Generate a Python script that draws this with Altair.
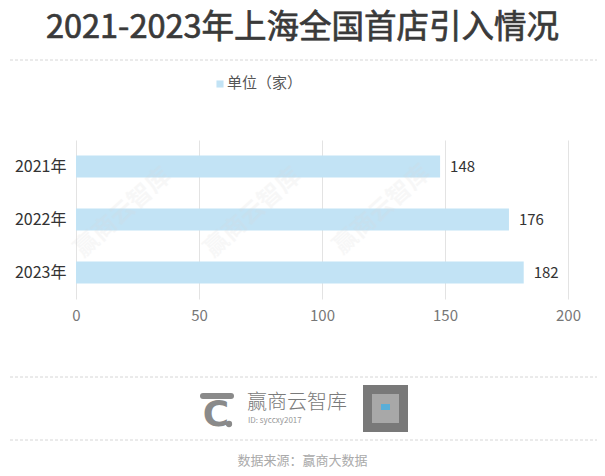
import altair as alt
import pandas as pd

years = ["2021年", "2022年", "2023年"]
counts = [148, 176, 182]
x_ticks = [0, 50, 100, 150, 200]
title_text = "2021-2023年上海全国首店引入情况"
legend_text = "单位（家）"
source_text = "数据来源：赢商大数据"
brand_text = "赢商云智库"
brand_id = "ID: syccxy2017"

FONT = "Noto Sans CJK SC"
df = pd.DataFrame({"year": years, "count": counts})

y_enc = alt.Y("year:N", sort=years,
              scale=alt.Scale(paddingInner=0.585, paddingOuter=0.2925),
              axis=alt.Axis(title=None, labelFontSize=16, labelColor="#333333",
                            labelPadding=10, domain=False, ticks=False, grid=False,
                            labelFont=FONT))
x_enc = alt.X("count:Q", scale=alt.Scale(domain=[0, 200], nice=False),
              axis=alt.Axis(values=x_ticks, title=None, grid=True, gridColor="#e3e3e3",
                            domain=False, ticks=False, labelFontSize=15, labelFlush=False,
                            labelColor="#777777", labelPadding=9, labelFont=FONT))

base = alt.Chart(df)
bars = base.mark_bar(color="#c2e3f5").encode(y=y_enc, x=x_enc)
labels = base.mark_text(align="left", dx=10, fontSize=15, color="#333333", font=FONT).encode(
    y=alt.Y("year:N", sort=years), x="count:Q", text="count:Q")

wm = alt.Chart(pd.DataFrame({"t": [brand_text]}))
watermarks = alt.layer(*[
    wm.mark_text(fontSize=24, fontWeight="bold", angle=318, color="#d8d8d8", opacity=0.18,
                 font=FONT).encode(text="t:N", x=alt.value(px), y=alt.value(py))
    for px, py in [(47, 73), (177, 73), (306, 70)]
])

one = alt.Chart(pd.DataFrame({"t": [""]}))

title = alt.Chart(pd.DataFrame({"t": [title_text]})).mark_text(
    fontSize=32.5, fontWeight="normal", color="#3a3a3a", font=FONT, baseline="middle",
    stroke="#3a3a3a", strokeWidth=0.7
).encode(text="t:N", x=alt.value(226.5), y=alt.value(-112))

dash_style = dict(strokeDash=[3, 2], color="#d6d6d6", strokeWidth=1)
rule1 = one.mark_rule(**dash_style).encode(x=alt.value(-76), x2=alt.value(529), y=alt.value(-80))
rule2 = one.mark_rule(**dash_style).encode(x=alt.value(-76), x2=alt.value(529), y=alt.value(237))
rule3 = one.mark_rule(**dash_style).encode(x=alt.value(-76), x2=alt.value(529), y=alt.value(300))

legend_sq = one.mark_square(size=50, color="#c2e3f5", opacity=1).encode(
    x=alt.value(144), y=alt.value(-56))
legend_tx = alt.Chart(pd.DataFrame({"t": [legend_text]})).mark_text(
    align="left", baseline="middle", fontSize=15, color="#555555", font=FONT
).encode(text="t:N", x=alt.value(151), y=alt.value(-57))

logo_bar = one.mark_rule(color="#8a8a8a", strokeWidth=6, strokeCap="round").encode(
    x=alt.value(127), x2=alt.value(155), y=alt.value(256))
logo_c = alt.Chart(pd.DataFrame({"t": ["C"]})).mark_text(
    fontSize=36, fontWeight="bold", color="#8a8a8a", font="DejaVu Sans", baseline="middle"
).encode(text="t:N", x=alt.value(140), y=alt.value(275))
logo_dot = one.mark_circle(size=40, color="#8a8a8a", opacity=1).encode(
    x=alt.value(153), y=alt.value(284))
brand = alt.Chart(pd.DataFrame({"t": [brand_text]})).mark_text(
    align="left", baseline="middle", fontSize=20, color="#7a7a7a", font=FONT, fontWeight=300
).encode(text="t:N", x=alt.value(171), y=alt.value(263))
brand_id_tx = alt.Chart(pd.DataFrame({"t": [brand_id]})).mark_text(
    align="left", baseline="middle", fontSize=8, color="#999999", font=FONT
).encode(text="t:N", x=alt.value(172), y=alt.value(281))
qr = one.mark_rect(color="#6a6a6a", opacity=0.9).encode(
    x=alt.value(287), x2=alt.value(332), y=alt.value(245), y2=alt.value(292))
qr_inner = one.mark_rect(color="#a8a8a8", opacity=1).encode(
    x=alt.value(296), x2=alt.value(323), y=alt.value(254), y2=alt.value(283))
qr_center = one.mark_rect(color="#5aaed8", opacity=1).encode(
    x=alt.value(305), x2=alt.value(314), y=alt.value(264), y2=alt.value(270))

source = alt.Chart(pd.DataFrame({"t": [source_text]})).mark_text(
    fontSize=13, color="#aaaaaa", font=FONT, baseline="middle"
).encode(text="t:N", x=alt.value(226.5), y=alt.value(321))

chart = alt.layer(
    bars, labels, watermarks, title, rule1, rule2, rule3, legend_sq, legend_tx,
    logo_bar, logo_c, logo_dot, brand, brand_id_tx, qr, qr_inner, qr_center, source
).properties(
    width=492, height=159,
    autosize=alt.AutoSizeParams(type="none"),
    padding={"left": 68, "top": 132, "right": 29, "bottom": 169},
    background="#ffffff",
).configure_view(stroke=None)

chart.save("out.html", embed_options={"renderer": "svg", "actions": False})
